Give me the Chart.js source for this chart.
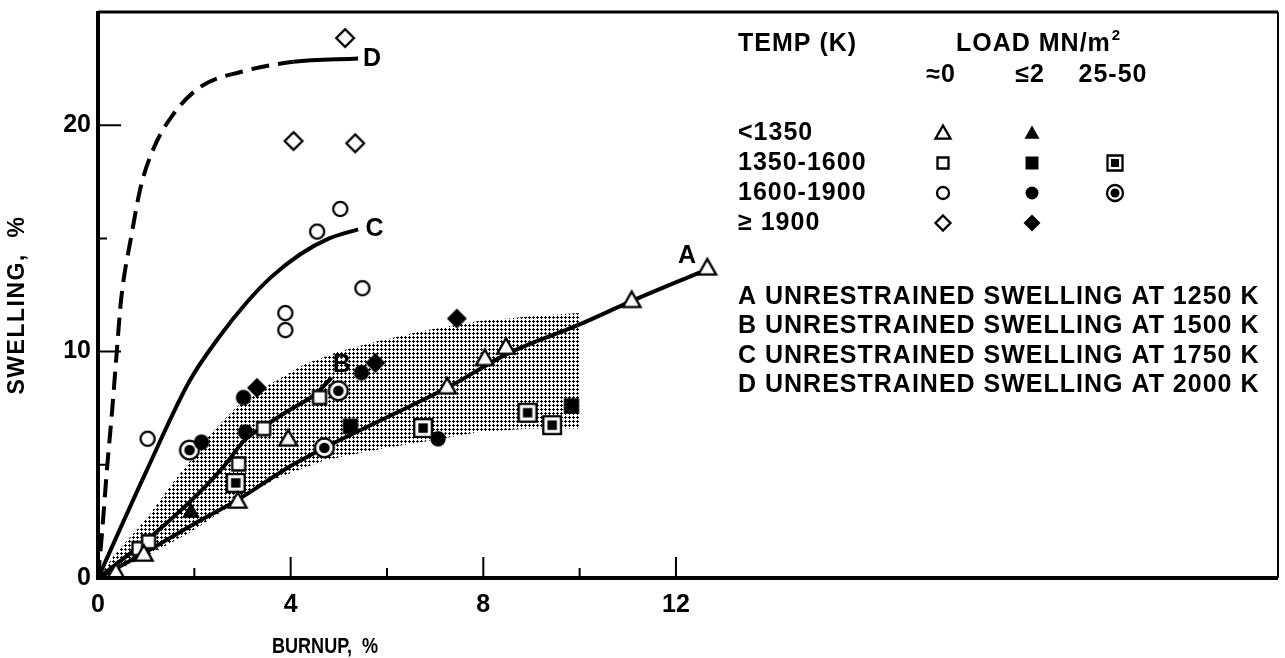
<!DOCTYPE html>
<html>
<head>
<meta charset="utf-8">
<title>Swelling vs burnup</title>
<script src="https://cdn.jsdelivr.net/npm/chart.js@4.4.1/dist/chart.umd.min.js"></script>
<style>
  html, body { margin: 0; padding: 0; background: #fff; }
  #wrap { width: 1285px; height: 658px; }
</style>
</head>
<body>
<div id="wrap"><canvas id="chart" width="1285" height="658"></canvas></div>
<script>
// burnup (%) and swelling (%) readings, one pair per symbol type
// <1350 K
const triOpenX = [0.37, 0.95, 2.9, 3.95, 7.25, 8.03, 8.47, 11.08, 12.65];
const triOpenY = [0.25, 1.06, 3.4, 6.15, 8.45, 9.7, 10.2, 12.26, 13.7];
const triFilledX = [1.93];
const triFilledY = [2.96];
// 1350-1600 K
const sqOpenX = [0.85, 1.05, 2.92, 3.44, 4.6];
const sqOpenY = [1.3, 1.6, 5.04, 6.6, 7.97];
const sqFilledX = [5.24, 9.83];
const sqFilledY = [6.7, 7.6];
const sqBoxedX = [2.86, 6.75, 8.92, 9.43];
const sqBoxedY = [4.2, 6.62, 7.3, 6.75];
// 1600-1900 K
const circOpenX = [1.03, 3.89, 3.89, 4.55, 5.03, 5.49];
const circOpenY = [6.15, 11.7, 10.95, 15.3, 16.3, 12.8];
const circFilledX = [2.15, 3.02, 3.06, 5.47, 7.06];
const circFilledY = [6.0, 7.97, 6.45, 9.07, 6.15];
const circDotX = [1.9, 4.99, 4.7];
const circDotY = [5.65, 8.27, 5.75];
// >=1900 K
const diaOpenX = [5.13, 4.06, 5.34];
const diaOpenY = [23.85, 19.3, 19.2];
const diaFilledX = [3.3, 5.76, 7.45];
const diaFilledY = [8.4, 9.5, 11.46];

// unrestrained swelling curves
const curveAX = [0, 1, 2, 2.9, 4, 4.7, 6, 7.25, 8.5, 10, 11.1, 12.5];
const curveAY = [0, 1.15, 2.4, 3.45, 4.95, 5.75, 7.1, 8.4, 9.9, 11.2, 12.25, 13.5];
const curveBX = [0, 1, 1.9, 2.6, 3.05, 3.45, 4.0, 4.5, 4.85];
const curveBY = [0, 1.65, 3.35, 4.9, 6.1, 6.7, 7.45, 8.1, 8.85];
const curveCX = [0, 1.0, 1.9, 2.5, 3.1, 3.6, 4.2, 4.8, 5.4];
const curveCY = [0, 4.7, 8.7, 10.6, 12.2, 13.3, 14.3, 15.0, 15.4];
const curveDX = [0, 0.08, 0.19, 0.29, 0.39, 0.48, 0.7, 0.89, 1.16, 1.57, 2.13, 2.96, 4.06, 5.4];
const curveDY = [0, 1.9, 4.9, 7.3, 10, 12.3, 15.2, 17.3, 19.0, 20.5, 21.7, 22.35, 22.8, 22.95];

// scatter band outline: upper edge out, lower edge back
const bandX = [0, 0.37, 1.0, 1.55, 2.0, 2.35, 2.9, 3.6, 4.3, 5.0, 5.7, 6.7, 7.9, 9.2, 10.0,
               10.0, 9.0, 7.9, 7.25, 6.0, 4.7, 3.7, 2.9, 1.9, 0.9, 0];
const bandY = [0, 1.1, 2.6, 4.2, 5.4, 6.4, 7.6, 8.6, 9.45, 10.0, 10.4, 10.9, 11.35, 11.6, 11.7,
               6.6, 6.6, 6.45, 6.2, 5.75, 5.2, 4.4, 3.4, 2.0, 0.85, 0];

// curve letters and where they sit
const curveNames = ['A', 'B', 'C', 'D'];
const curveNameX = [12.24, 5.07, 5.75, 5.7];
const curveNameY = [14.2, 9.4, 15.4, 22.9];
const curveTemps = ['1250', '1500', '1750', '2000'];

// axes
const xTickLabels = [0, 4, 8, 12];
const xMajor = [4, 8, 12];
const xMinor = [2, 6, 10];
const yTickLabels = [0, 10, 20];
const yMajor = [10, 20];
const yMinor = [5, 15];

const tempRows = ['<1350', '1350-1600', '1600-1900', '\u2265 1900'];
const loadCols = ['\u22480', '\u22642', '25-50'];

const FONT = '"Liberation Sans", Arial, sans-serif';

function pts(xs, ys) {
    return xs.map((x, i) => ({ x: x, y: ys[i] }));
}

// draws one plotting symbol centred on (x, y)
function drawSymbol(g, kind, x, y, s) {
    g.save();
    g.strokeStyle = '#000';
    g.fillStyle = '#000';
    g.lineWidth = 2.3;
    g.lineJoin = 'miter';
    const open = () => { g.fillStyle = '#fff'; g.fill(); g.stroke(); };
    let h;
    g.beginPath();
    switch (kind) {
        case 'triOpen':
        case 'triFilled':
            h = 7.5 * s;
            g.moveTo(x, y - h);
            g.lineTo(x + h, y + h * 0.75);
            g.lineTo(x - h, y + h * 0.75);
            g.closePath();
            kind === 'triOpen' ? open() : g.fill();
            break;
        case 'sqOpen':
            h = 5.5 * s;
            g.rect(x - h, y - h, 2 * h, 2 * h);
            open();
            break;
        case 'sqFilled':
            h = 6.5 * s;
            g.rect(x - h, y - h, 2 * h, 2 * h);
            g.fill();
            break;
        case 'sqBoxed':
            h = 7.5 * s;
            g.rect(x - h, y - h, 2 * h, 2 * h);
            open();
            g.fillStyle = '#000';
            h = 4 * s;
            g.fillRect(x - h, y - h, 2 * h, 2 * h);
            break;
        case 'circOpen':
            g.arc(x, y, 6 * s, 0, Math.PI * 2);
            open();
            break;
        case 'circFilled':
            g.arc(x, y, 6.5 * s, 0, Math.PI * 2);
            g.fill();
            break;
        case 'circDot':
            g.arc(x, y, 8 * s, 0, Math.PI * 2);
            open();
            g.beginPath();
            g.fillStyle = '#000';
            g.arc(x, y, 4.5 * s, 0, Math.PI * 2);
            g.fill();
            break;
        case 'diaOpen':
        case 'diaFilled':
            h = (kind === 'diaOpen' ? 7.5 : 8.5) * s;
            g.moveTo(x, y - h);
            g.lineTo(x + h, y);
            g.lineTo(x, y + h);
            g.lineTo(x - h, y);
            g.closePath();
            kind === 'diaOpen' ? open() : g.fill();
            break;
    }
    g.restore();
}

function makeMarker(kind) {
    const c = document.createElement('canvas');
    c.width = 28;
    c.height = 28;
    drawSymbol(c.getContext('2d'), kind, 14, 14, 1.18);
    return c;
}

// dot screen for the scatter band
function makeStipple(ctx) {
    const tile = document.createElement('canvas');
    tile.width = 4;
    tile.height = 4;
    const g = tile.getContext('2d');
    g.fillStyle = '#000';
    g.fillRect(1, 0, 1, 3);
    g.fillRect(0, 1, 3, 1);
    return ctx.createPattern(tile, 'repeat');
}

function markerSet(label, kind, xs, ys) {
    return {
        label: label,
        data: pts(xs, ys),
        pointStyle: makeMarker(kind),
        pointRadius: 6,
        showLine: false,
        order: 0
    };
}

function curveSet(label, xs, ys, dashed) {
    return {
        type: 'line',
        label: label,
        data: pts(xs, ys),
        borderColor: '#000',
        borderWidth: 4,
        pointRadius: 0,
        fill: false,
        cubicInterpolationMode: 'monotone',
        borderCapStyle: 'butt',
        segment: dashed ? { borderDash: c => c.p0.parsed.x >= 4 ? [] : [18, 9] } : undefined,
        order: 1
    };
}

// frame, inward tick marks, axis titles, key and curve letters
const decorations = {
    id: 'decorations',
    afterDraw(chart) {
        const { ctx, chartArea: a, scales: { x, y } } = chart;
        ctx.save();
        ctx.strokeStyle = '#000';
        ctx.fillStyle = '#000';
        ctx.lineCap = 'butt';

        ctx.lineWidth = 4;
        ctx.beginPath();
        ctx.moveTo(a.left, a.top - 1);
        ctx.lineTo(a.left, a.bottom);
        ctx.lineTo(a.right, a.bottom);
        ctx.stroke();
        ctx.lineWidth = 3;
        ctx.beginPath();
        ctx.moveTo(a.left, a.top);
        ctx.lineTo(a.right, a.top);
        ctx.stroke();
        ctx.lineWidth = 2;
        ctx.beginPath();
        ctx.moveTo(a.right, a.top);
        ctx.lineTo(a.right, a.bottom);
        ctx.stroke();

        ctx.lineWidth = 2;
        ctx.beginPath();
        xMajor.forEach(v => { const p = x.getPixelForValue(v); ctx.moveTo(p, a.bottom); ctx.lineTo(p, a.bottom - 21); });
        xMinor.forEach(v => { const p = x.getPixelForValue(v); ctx.moveTo(p, a.bottom); ctx.lineTo(p, a.bottom - 10); });
        yMajor.forEach(v => { const p = y.getPixelForValue(v); ctx.moveTo(a.left, p); ctx.lineTo(a.left + 23, p); });
        yMinor.forEach(v => { const p = y.getPixelForValue(v); ctx.moveTo(a.left, p); ctx.lineTo(a.left + 9, p); });
        ctx.stroke();

        ctx.textBaseline = 'middle';
        ctx.textAlign = 'center';

        // axis titles (the x title is set in a narrow face)
        ctx.letterSpacing = '0px';
        ctx.font = 'bold 22px ' + FONT;
        ctx.save();
        ctx.translate(325, 647);
        ctx.scale(0.82, 1);
        ctx.fillText('BURNUP,  %', 0, 0);
        ctx.restore();
        ctx.letterSpacing = '1.5px';
        ctx.font = 'bold 23px ' + FONT;
        ctx.save();
        ctx.translate(18, 305);
        ctx.rotate(-Math.PI / 2);
        ctx.fillText('SWELLING,  %', 0, 0);
        ctx.restore();

        // curve letters
        ctx.letterSpacing = '1px';
        ctx.font = 'bold 25px ' + FONT;
        curveNames.forEach((n, i) => {
            ctx.fillText(n, x.getPixelForValue(curveNameX[i]), y.getPixelForValue(curveNameY[i]));
        });

        // key
        ctx.textAlign = 'left';
        ctx.fillText('TEMP (K)', 738, 44);
        ctx.fillText('LOAD MN/m', 956, 44);
        const w = ctx.measureText('LOAD MN/m').width;
        ctx.font = 'bold 15px ' + FONT;
        ctx.fillText('2', 956 + w + 1, 36);
        ctx.font = 'bold 25px ' + FONT;
        ctx.textAlign = 'center';
        const colX = [941, 1030, 1113];
        loadCols.forEach((t, i) => ctx.fillText(t, colX[i], 75));

        const rowY = [133, 163, 193, 223];
        const rowKinds = [
            ['triOpen', 'triFilled'],
            ['sqOpen', 'sqFilled', 'sqBoxed'],
            ['circOpen', 'circFilled', 'circDot'],
            ['diaOpen', 'diaFilled']
        ];
        ctx.textAlign = 'left';
        tempRows.forEach((t, i) => {
            ctx.fillText(t, 738, rowY[i]);
            rowKinds[i].forEach((k, j) => drawSymbol(ctx, k, colX[j] + 2, rowY[i], 1));
        });

        curveNames.forEach((n, i) => {
            ctx.fillText(n + ' UNRESTRAINED SWELLING AT ' + curveTemps[i] + ' K', 738, 297 + i * 29.5);
        });
        ctx.restore();
    }
};

const canvas = document.getElementById('chart');
const ctx = canvas.getContext('2d');

Chart.defaults.font.family = FONT;
Chart.defaults.font.size = 25;
Chart.defaults.font.weight = 'bold';
Chart.defaults.color = '#000';

new Chart(ctx, {
    type: 'scatter',
    data: {
        datasets: [
            markerSet('<1350, ~0', 'triOpen', triOpenX, triOpenY),
            markerSet('<1350, <=2', 'triFilled', triFilledX, triFilledY),
            markerSet('1350-1600, ~0', 'sqOpen', sqOpenX, sqOpenY),
            markerSet('1350-1600, <=2', 'sqFilled', sqFilledX, sqFilledY),
            markerSet('1350-1600, 25-50', 'sqBoxed', sqBoxedX, sqBoxedY),
            markerSet('1600-1900, ~0', 'circOpen', circOpenX, circOpenY),
            markerSet('1600-1900, <=2', 'circFilled', circFilledX, circFilledY),
            markerSet('1600-1900, 25-50', 'circDot', circDotX, circDotY),
            markerSet('>=1900, ~0', 'diaOpen', diaOpenX, diaOpenY),
            markerSet('>=1900, <=2', 'diaFilled', diaFilledX, diaFilledY),
            curveSet('A', curveAX, curveAY, false),
            curveSet('B', curveBX, curveBY, false),
            curveSet('C', curveCX, curveCY, false),
            curveSet('D', curveDX, curveDY, true),
            {
                type: 'line',
                label: 'band',
                data: pts(bandX, bandY),
                borderWidth: 0,
                borderColor: 'rgba(0,0,0,0)',
                backgroundColor: makeStipple(ctx),
                pointRadius: 0,
                tension: 0,
                fill: 'shape',
                order: 2
            }
        ]
    },
    options: {
        responsive: false,
        animation: false,
        events: [],
        layout: { padding: { top: 12, right: 4, left: 0, bottom: 0 } },
        plugins: { legend: { display: false }, tooltip: { enabled: false } },
        scales: {
            x: {
                type: 'linear',
                min: 0,
                max: 24.5,
                grid: { display: false, drawTicks: false },
                border: { display: false },
                ticks: {
                    stepSize: 4,
                    padding: 12,
                    autoSkip: false,
                    maxRotation: 0,
                    callback: v => xTickLabels.includes(v) ? String(v) : ''
                },
                afterFit: s => { s.height = 80; s.paddingLeft = 0; s.paddingRight = 0; }
            },
            y: {
                type: 'linear',
                min: 0,
                max: 25,
                grid: { display: false, drawTicks: false },
                border: { display: false },
                ticks: {
                    stepSize: 10,
                    padding: 7,
                    callback: v => yTickLabels.includes(v) ? String(v) : ''
                },
                afterFit: s => { s.width = 98; s.paddingTop = 0; s.paddingBottom = 0; }
            }
        }
    },
    plugins: [decorations]
});
</script>
</body>
</html>
